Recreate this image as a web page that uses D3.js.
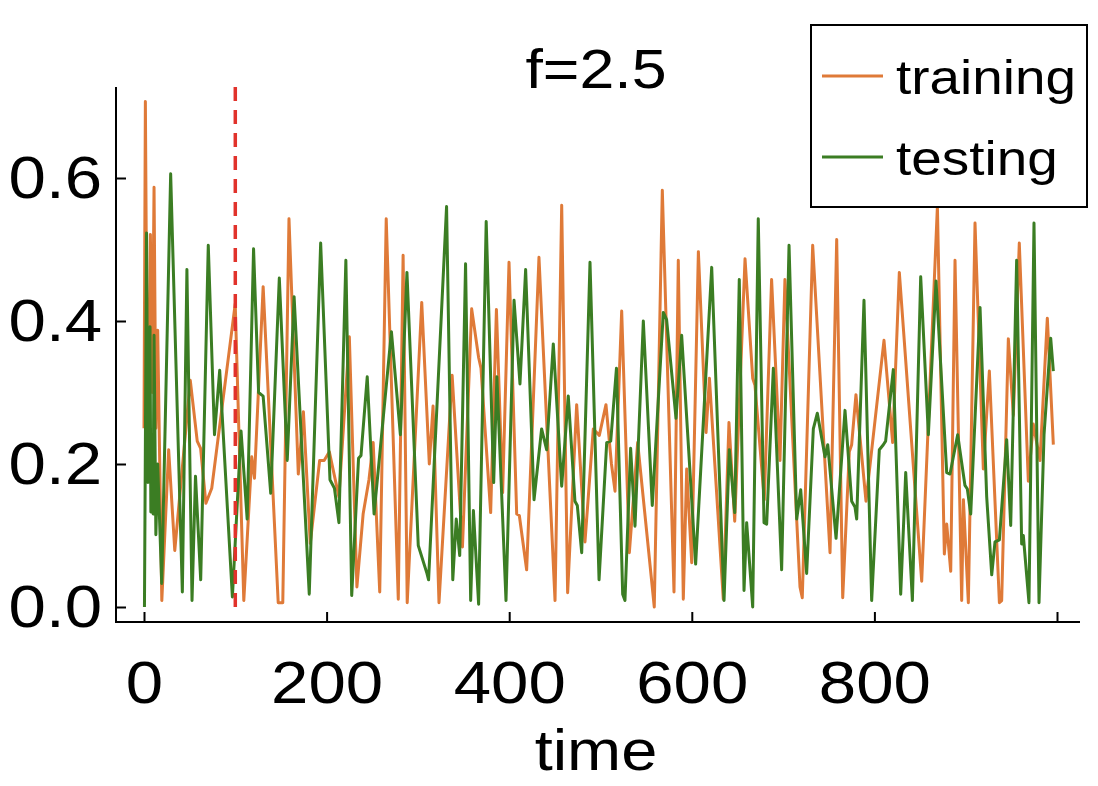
<!DOCTYPE html>
<html>
<head>
<meta charset="utf-8">
<script src="https://cdn.jsdelivr.net/npm/d3@7"></script>
<style>
    body { margin: 0; background: #fff; }
    text { font-family: "Liberation Sans", Arial, Helvetica, sans-serif; fill: #000; }
</style>
</head>
<body>
<svg id="chart" width="1098" height="786"></svg>
<script>
// values: [time, value]
const training = [
    [0, 0.25], [1.5, 0.707], [4, 0.2], [7, 0.521], [9, 0.3], [11, 0.587], [13, 0.25], [15, 0.387],
    [19.5, 0.009], [27, 0.22], [33.7, 0.079], [50.7, 0.317], [58.3, 0.232], [62, 0.222], [67.8, 0.145],
    [74.2, 0.166], [99.9, 0.424], [109.3, 0.009], [118, 0.21], [121, 0.18], [130.5, 0.448], [147, 0.006],
    [152, 0.006], [158.8, 0.543], [169, 0.186], [174.6, 0.273], [182.1, 0.089], [192.4, 0.205],
    [197.3, 0.205], [203, 0.217], [213.5, 0.154], [224.9, 0.378], [233.2, 0.028], [240, 0.13],
    [246.4, 0.178], [251, 0.23], [258.2, 0.021], [265.3, 0.543], [278.5, 0.011], [283.8, 0.492],
    [288.3, 0.006], [304.2, 0.426], [312.5, 0.2], [316.6, 0.281], [323.1, 0.006], [337.5, 0.324],
    [348.8, 0.084], [358.9, 0.417], [366.5, 0.349], [369.1, 0.334], [379.7, 0.132], [386, 0.416],
    [392.8, 0.16], [399.8, 0.482], [408.2, 0.13], [411.1, 0.128], [419.1, 0.052], [432.6, 0.489],
    [450.2, 0.009], [457.5, 0.562], [464, 0.02], [473.9, 0.283], [483, 0.091], [492.1, 0.249],
    [498.7, 0.24], [506, 0.283], [512, 0.2], [515.9, 0.162], [523.2, 0.414], [531.6, 0.076],
    [540.7, 0.23], [558.9, 0.0], [567.7, 0.583], [580.5, 0.021], [585.2, 0.485], [590.7, 0.011],
    [594.4, 0.193], [599.9, 0.062], [607.2, 0.497], [615.6, 0.244], [619.3, 0.32], [634.5, 0.011],
    [640.7, 0.258], [647, 0.12], [658.3, 0.487], [666.7, 0.32], [669.2, 0.31], [679.4, 0.15],
    [687.4, 0.458], [696.6, 0.205], [702, 0.458], [718.5, 0.028], [721, 0.013], [732.4, 0.506],
    [751.4, 0.076], [758.7, 0.514], [765.3, 0.013], [772.5, 0.217], [775.1, 0.227], [779.8, 0.297],
    [790.8, 0.148], [810.5, 0.373], [820, 0.23], [827.3, 0.468], [851.8, 0.036], [869, 0.56],
    [876.6, 0.074], [879.2, 0.116], [883.6, 0.05], [888.3, 0.485], [895.6, 0.009], [897.5, 0.15],
    [902.9, 0.006], [910.2, 0.537], [919.3, 0.193], [925.9, 0.33], [936.9, 0.006], [939.4, 0.009],
    [946.7, 0.375], [952.2, 0.268], [958.7, 0.509], [968.6, 0.176], [974, 0.256], [981.4, 0.205],
    [989.4, 0.404], [996, 0.227]
];

const testing = [
    [0.5, 0.0], [2.8, 0.523], [4.3, 0.174], [6.6, 0.392], [7.5, 0.133], [8.8, 0.241], [10, 0.13],
    [11, 0.38], [13, 0.101], [15, 0.2], [19.4, 0.033], [29.2, 0.606], [42, 0.021], [47, 0.472],
    [52.6, 0.009], [56.4, 0.183], [62.1, 0.038], [70.4, 0.506], [77.2, 0.241], [82.9, 0.331],
    [96.8, 0.014], [106.3, 0.246], [113, 0.123], [120, 0.501], [125.5, 0.3], [130.5, 0.295],
    [138.8, 0.159], [148.2, 0.46], [156.9, 0.205], [164.4, 0.434], [181, 0.018], [193.5, 0.509],
    [203.7, 0.178], [208.6, 0.166], [213.5, 0.118], [221.1, 0.485], [227.5, 0.016], [235, 0.208],
    [237.7, 0.212], [244.5, 0.322], [252, 0.13], [271, 0.385], [280.8, 0.241], [288, 0.468],
    [300.4, 0.086], [309.9, 0.047], [311.7, 0.038], [331.4, 0.56], [338.2, 0.038], [342, 0.123],
    [345.8, 0.072], [352.2, 0.48], [357.8, 0.009], [360.8, 0.135], [366.5, 0.004], [374.8, 0.539],
    [383, 0.174], [386.5, 0.322], [396.5, 0.009], [405.3, 0.429], [411.8, 0.312], [418, 0.472],
    [427.2, 0.15], [435.5, 0.249], [441, 0.22], [448.3, 0.368], [457.5, 0.169], [464.7, 0.295],
    [472, 0.148], [474.6, 0.142], [479.4, 0.076], [488.5, 0.482], [498.4, 0.038], [506.8, 0.23],
    [511.2, 0.232], [517.5, 0.334], [524.3, 0.018], [526.8, 0.009], [533, 0.222], [537.8, 0.113],
    [546.9, 0.4], [556.7, 0.142], [568.8, 0.412], [572.4, 0.402], [582.7, 0.264], [588.9, 0.38],
    [604.2, 0.06], [621.8, 0.475], [635.3, 0.009], [641.1, 0.22], [647, 0.132], [652, 0.458],
    [657.2, 0.023], [660.1, 0.118], [666.7, 0.0], [672.8, 0.543], [679.1, 0.118], [682, 0.116],
    [689.3, 0.334], [698.4, 0.052], [706.5, 0.506], [714.9, 0.123], [719.3, 0.164], [725.8, 0.047],
    [733.1, 0.249], [737.5, 0.271], [745.9, 0.21], [748.9, 0.227], [758, 0.096], [767.8, 0.275],
    [775.1, 0.148], [778.7, 0.14], [780.6, 0.123], [788.6, 0.429], [797, 0.009], [805.4, 0.22],
    [809.8, 0.227], [812.3, 0.232], [820.7, 0.332], [828.8, 0.018], [834.3, 0.188], [841.6, 0.009],
    [850.7, 0.462], [859.1, 0.241], [867.5, 0.456], [879.2, 0.188], [882.8, 0.186], [891.2, 0.241],
    [899.2, 0.17], [901.8, 0.165], [905.5, 0.13], [915.7, 0.419], [923, 0.154], [928.5, 0.045],
    [932.1, 0.091], [936.9, 0.094], [944.9, 0.234], [949.3, 0.114], [955.8, 0.485], [961.3, 0.088],
    [963.1, 0.1], [969.3, 0.006], [974.8, 0.537], [980.3, 0.006], [985.8, 0.241], [993.1, 0.376],
    [996, 0.33]
];

const splitTime = 100;
const xTicks = [0, 200, 400, 600, 800, 1000];
const xTickLabels = ["0", "200", "400", "600", "800", ""];
const yTicks = [0, 0.2, 0.4, 0.6];
const seriesNames = ["training", "testing"];
const colors = { training: "#df7a38", testing: "#3b7d23", split: "#e1322b" };

const stretch = 1.12; // glyphs in the reference are a bit wider than Arial

const svg = d3.select("#chart");

const frame = { left: 116, right: 1080, top: 87, bottom: 622 };
const x = d3.scaleLinear().domain([0, 1000]).range([144, 1057]);
const y = d3.scaleLinear().domain([0, 0.6]).range([607, 178]);

// axes (ticks point inward)
const xAxis = svg.append("g")
    .attr("transform", `translate(0,${frame.bottom})`)
    .call(d3.axisBottom(x).tickValues(xTicks)
        .tickFormat((d, i) => xTickLabels[i])
        .tickSizeInner(-10).tickSizeOuter(0).tickPadding(38));
xAxis.select(".domain").remove();
xAxis.selectAll(".tick line").attr("stroke", "#000").attr("stroke-width", 2);
xAxis.selectAll(".tick text")
    .attr("font-size", 60)
    .attr("transform", `scale(${stretch},1)`);

const yAxis = svg.append("g")
    .attr("transform", `translate(${frame.left},0)`)
    .call(d3.axisLeft(y).tickValues(yTicks)
        .tickFormat(d3.format(".1f"))
        .tickSizeInner(-10).tickSizeOuter(0).tickPadding(14));
yAxis.select(".domain").remove();
yAxis.selectAll(".tick line").attr("stroke", "#000").attr("stroke-width", 2);
yAxis.selectAll(".tick text")
    .attr("font-size", 60)
    .attr("x", -14 / stretch)
    .attr("transform", `scale(${stretch},1)`);

svg.append("path")
    .attr("d", `M${frame.left},${frame.top}V${frame.bottom}H${frame.right}`)
    .attr("fill", "none")
    .attr("stroke", "#000")
    .attr("stroke-width", 2);

// series
const line = d3.line()
    .x(d => x(d[0]))
    .y(d => y(d[1]));
const data = { training, testing };

seriesNames.forEach(name => {
    svg.append("path")
        .datum(data[name])
        .attr("d", line)
        .attr("fill", "none")
        .attr("stroke", colors[name])
        .attr("stroke-width", 3)
        .attr("stroke-linejoin", "round");
});

// train / test split marker
svg.append("line")
    .attr("x1", x(splitTime)).attr("x2", x(splitTime))
    .attr("y1", frame.top).attr("y2", 610)
    .attr("stroke", colors.split)
    .attr("stroke-width", 3.5)
    .attr("stroke-dasharray", "14,9");

// title and axis label
const cx = (frame.left + frame.right) / 2 - 2;
svg.append("text")
    .attr("transform", `translate(${cx},88) scale(${stretch},1)`)
    .attr("text-anchor", "middle")
    .attr("font-size", 56)
    .text("f=2.5");

svg.append("text")
    .attr("transform", `translate(${cx},770) scale(${stretch},1)`)
    .attr("text-anchor", "middle")
    .attr("font-size", 58)
    .text("time");

// legend
const legend = svg.append("g");
legend.append("rect")
    .attr("x", 811).attr("y", 25)
    .attr("width", 276).attr("height", 182)
    .attr("fill", "#fff")
    .attr("stroke", "#000")
    .attr("stroke-width", 2);

seriesNames.forEach((name, i) => {
    const ly = 76 + i * 81;
    legend.append("line")
        .attr("x1", 822).attr("x2", 883)
        .attr("y1", ly).attr("y2", ly)
        .attr("stroke", colors[name])
        .attr("stroke-width", 3);
    legend.append("text")
        .attr("transform", `translate(896,${ly + 18}) scale(${stretch},1)`)
        .attr("font-size", 49)
        .text(name);
});
</script>
</body>
</html>
